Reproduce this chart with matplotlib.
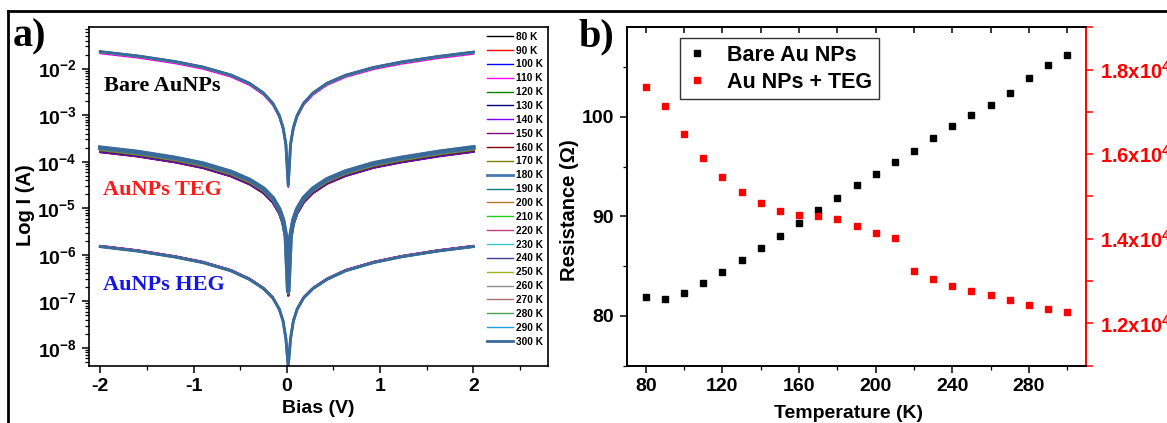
import matplotlib.pyplot as plt
from matplotlib.lines import Line2D
from matplotlib.ticker import MultipleLocator, FuncFormatter, LogLocator, NullFormatter

plt.rcParams['font.family'] = ['Liberation Sans', 'DejaVu Sans']
plt.rcParams['font.weight'] = 'bold'
plt.rcParams['axes.labelweight'] = 'bold'
plt.rcParams['axes.linewidth'] = 1.2

# ---- panel a: I-V curves (|I|) ----
temps = [80, 90, 100, 110, 120, 130, 140, 150, 160, 170, 180, 190,
         200, 210, 220, 230, 240, 250, 260, 270, 280, 290, 300]
colors = ['#000000', '#ff0000', '#0000ff', '#ff00ff', '#008000', '#000080',
          '#8000ff', '#800080', '#800000', '#808000', '#4a78b0', '#008080',
          '#b07830', '#20d020', '#c04080', '#40c8c8', '#404090', '#a0b020',
          '#909090', '#b07070', '#50a050', '#20a0e0', '#3a6a9a']

bias = [-2.0, -1.6, -1.2, -0.9, -0.6, -0.4, -0.25, -0.15, -0.08, -0.04, -0.01,
        0.015, 0.04, 0.07, 0.11, 0.18, 0.28, 0.43, 0.63, 0.93, 1.23, 1.63, 2.0]
bare_I = [2.25e-2, 1.82e-2, 1.38e-2, 1.05e-2, 7.1e-3, 4.7e-3, 2.9e-3, 1.75e-3,
          9.5e-4, 5.2e-4, 2.3e-4, 3e-5, 2.3e-4, 5.2e-4, 9.5e-4, 1.75e-3, 2.9e-3,
          4.7e-3, 7.0e-3, 1.03e-2, 1.35e-2, 1.78e-2, 2.2e-2]
teg_I = [1.82e-4, 1.47e-4, 1.1e-4, 8.3e-5, 5.5e-5, 3.7e-5, 2.4e-5, 1.5e-5,
         8.6e-6, 5.0e-6, 2.3e-6, 1.5e-7, 2.3e-6, 5.0e-6, 8.6e-6, 1.5e-5, 2.4e-5,
         3.8e-5, 5.6e-5, 8.4e-5, 1.1e-4, 1.48e-4, 1.85e-4]
heg_I = [1.52e-6, 1.22e-6, 9.1e-7, 6.9e-7, 4.6e-7, 3.0e-7, 1.9e-7, 1.2e-7,
         6.8e-8, 3.8e-8, 1.6e-8, 4e-9, 1.6e-8, 3.8e-8, 6.8e-8, 1.2e-7, 1.9e-7,
         3.0e-7, 4.6e-7, 6.9e-7, 9.2e-7, 1.23e-6, 1.52e-6]
# small shift of each temperature curve inside its band
bare_spread = [1.04, 1.01, 1.02, 0.93, 1.00, 1.03, 0.97, 1.01, 1.00, 0.99, 1.02, 1.00,
               0.99, 1.01, 0.98, 1.00, 1.01, 0.99, 1.00, 1.02, 0.99, 1.00, 1.03]
teg_spread = [0.90, 0.88, 0.89, 0.91, 0.92, 0.93, 0.94, 0.95, 0.96, 0.97, 1.08, 0.99,
              1.00, 1.01, 1.02, 1.03, 1.04, 1.05, 1.06, 1.07, 1.08, 1.09, 1.10]
heg_spread = [1.02, 1.03, 1.00, 1.04, 0.97, 1.00, 1.02, 1.03, 0.99, 1.01, 0.98, 0.97,
              1.00, 0.99, 1.01, 1.00, 0.98, 1.00, 0.99, 1.01, 0.97, 1.00, 0.99]

# ---- panel b: resistance vs temperature ----
res_bare = [81.92, 81.69, 82.32, 83.26, 84.37, 85.64, 86.81, 88.01, 89.35, 90.69,
            91.80, 93.14, 94.24, 95.51, 96.62, 97.86, 99.10, 100.20, 101.21,
            102.41, 103.88, 105.26, 106.19]
res_teg = [17590, 17130, 16470, 15900, 15460, 15110, 14840, 14660, 14560, 14540,
           14470, 14300, 14130, 14020, 13240, 13050, 12890, 12770, 12660, 12560,
           12440, 12340, 12270]

fig = plt.figure(figsize=(11.67, 4.23), dpi=100)

axa = fig.add_axes([0.0763, 0.1348, 0.3933, 0.8021])
for i, T in enumerate(temps):
    lw = 2.0 if T in (180, 300) else 1.0
    axa.plot(bias, [v * bare_spread[i] for v in bare_I], color=colors[i], lw=lw, label=f'{T} K')
    axa.plot(bias, [v * teg_spread[i] for v in teg_I], color=colors[i], lw=lw * 1.6)
    axa.plot(bias, [v * heg_spread[i] for v in heg_I], color=colors[i], lw=lw)

axa.set_yscale('log')
axa.set_xlim(-2.12, 2.8)
axa.set_ylim(10 ** -8.39, 10 ** -1.10)
axa.xaxis.set_major_locator(MultipleLocator(1))
axa.xaxis.set_minor_locator(MultipleLocator(0.5))
axa.yaxis.set_major_locator(LogLocator(base=10, numticks=20))
axa.yaxis.set_minor_locator(LogLocator(base=10, subs=range(2, 10), numticks=20))
axa.yaxis.set_minor_formatter(NullFormatter())
axa.xaxis.set_major_formatter(FuncFormatter(lambda v, p: f'{v:.0f}'))
axa.tick_params(which='major', direction='out', length=5, width=1.1, labelsize=14, pad=4)
axa.tick_params(which='minor', direction='out', length=3, width=0.9)
axa.set_xlabel('Bias (V)', fontsize=14)
axa.set_ylabel('Log I (A)', fontsize=14.5)
axa.xaxis.set_label_coords(0.5, -0.10)
axa.yaxis.set_label_coords(-0.117, 0.474)

axa.legend(loc='upper right', bbox_to_anchor=(1.0, 1.0), frameon=False, fontsize=7.3,
           labelspacing=0.38, handlelength=2.5, handletextpad=0.3, borderpad=0.2,
           borderaxespad=0.3)

serif = ['Liberation Serif', 'DejaVu Serif']
axa.text(-1.34, 4.2e-3, 'Bare AuNPs', color='black', family=serif, fontsize=16,
         ha='center', va='center')
axa.text(-1.33, 2.5e-5, 'AuNPs TEG', color='#ff1a1a', family=serif, fontsize=16,
         ha='center', va='center')
axa.text(-1.32, 2.2e-7, 'AuNPs HEG', color='#1515e6', family=serif, fontsize=16,
         ha='center', va='center')

axb = fig.add_axes([0.5369, 0.1355, 0.3941, 0.8])
h1, = axb.plot(temps, res_bare, 's', color='black', ms=5, label='Bare Au NPs')
axb.set_xlim(70, 310)
axb.set_ylim(75, 109)
axb.xaxis.set_major_locator(MultipleLocator(40))
axb.xaxis.set_minor_locator(MultipleLocator(20))
axb.yaxis.set_major_locator(MultipleLocator(10))
axb.yaxis.set_minor_locator(MultipleLocator(5))
axb.tick_params(which='major', direction='out', length=5, width=1.1, labelsize=14, pad=4)
axb.tick_params(which='minor', direction='out', length=3, width=0.9)
axb.spines['right'].set_visible(False)
top = axb.secondary_xaxis('top')
top.xaxis.set_major_locator(MultipleLocator(40))
top.xaxis.set_minor_locator(MultipleLocator(20))
top.tick_params(which='both', direction='in', labeltop=False, length=4, width=1.1)
axb.set_xlabel('Temperature (K)', fontsize=14)
axb.set_ylabel('Resistance (Ω)', fontsize=14.5)
axb.xaxis.set_label_coords(0.482, -0.116)
axb.yaxis.set_label_coords(-0.104, 0.46)

axr = axb.twinx()
h2, = axr.plot(temps, res_teg, 's', color='red', ms=5, label='Au NPs + TEG')
axr.set_ylim(11000, 19000)
axr.yaxis.set_major_locator(MultipleLocator(2000))
axr.yaxis.set_minor_locator(MultipleLocator(1000))
axr.yaxis.set_major_formatter(FuncFormatter(
    lambda v, p: r'$\mathdefault{%.1fx10^{4}}$' % (v / 1e4)))
axr.tick_params(axis='y', which='major', direction='out', length=5, width=1.1,
                labelsize=14.5, colors='red', pad=5)
axr.tick_params(axis='y', which='minor', direction='out', length=5, width=1.1,
                colors='red')
axr.spines['right'].set_color('red')
axr.spines['right'].set_linewidth(1.4)

leg = axr.legend(handles=[h1, h2], loc='upper left', bbox_to_anchor=(0.116, 0.968),
                 borderaxespad=0, fontsize=15.5, handlelength=1.0, handletextpad=0.9,
                 fancybox=False, framealpha=1, edgecolor='#333333', borderpad=0.3,
                 labelspacing=0.3)
leg.get_frame().set_linewidth(1.0)

fig.text(0.011, 1 - 37 / 423, 'a)', family=serif, fontsize=29, va='center')
fig.text(0.4955, 1 - 37 / 423, 'b)', family=serif, fontsize=29, va='center')

fig.add_artist(Line2D([8 / 1167, 1], [1 - 11 / 423, 1 - 11 / 423],
                      transform=fig.transFigure, color='black', lw=2))
fig.add_artist(Line2D([8 / 1167, 8 / 1167], [0, 1 - 11 / 423],
                      transform=fig.transFigure, color='black', lw=2))

fig.savefig('out.png', dpi=100)
